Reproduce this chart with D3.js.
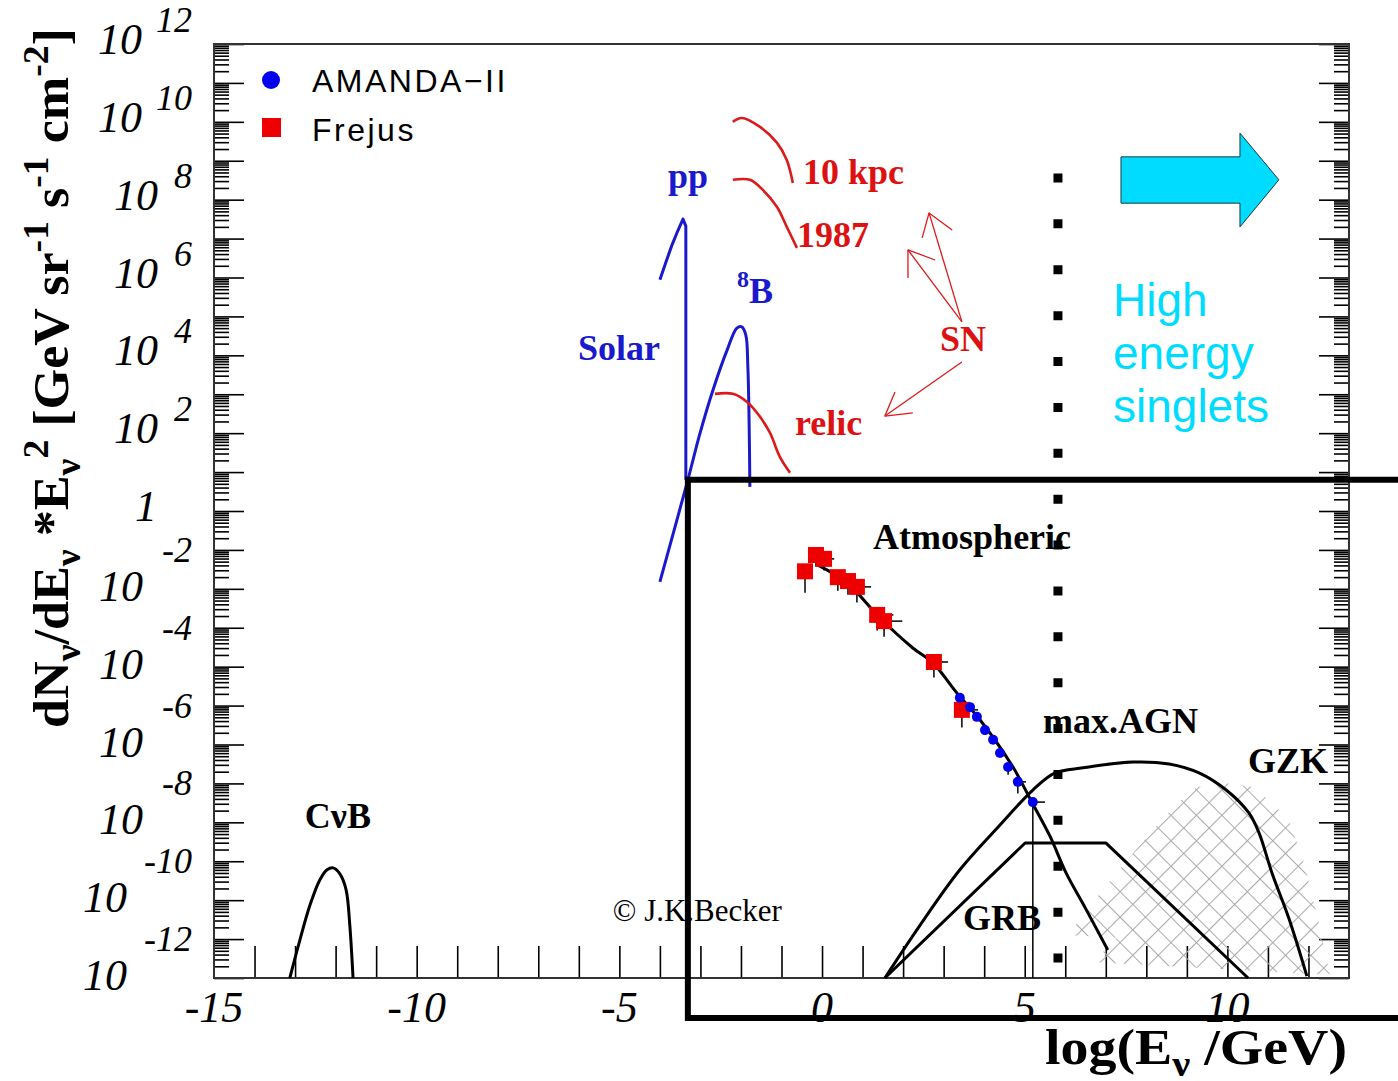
<!DOCTYPE html>
<html>
<head>
<meta charset="utf-8">
<script src="https://cdn.jsdelivr.net/npm/d3@7"></script>
<style>
  html, body { margin: 0; padding: 0; background: #fff; }
  svg { display: block; }
</style>
</head>
<body>
<div id="chart"></div>
<script>
'use strict'

// every curve is [log10(E/GeV), log10(flux)]
const cnbCurve = [[-13.13, -12.0], [-12.88, -11.02], [-12.63, -10.12], [-12.39, -9.48], [-12.21, -9.22],
  [-12.06, -9.17], [-11.89, -9.33], [-11.74, -9.74], [-11.65, -10.64], [-11.57, -12.0]]
const ppCurve = [[-4.0, 5.94], [-3.85, 6.40], [-3.70, 6.84], [-3.55, 7.22], [-3.43, 7.50], [-3.36, 7.32], [-3.36, 0.80]]
const boronCurve = [[-4.0, -1.82], [-3.31, 0.80], [-3.01, 2.0], [-2.69, 3.11], [-2.34, 4.14], [-2.10, 4.70],
  [-1.98, 4.73], [-1.88, 4.52], [-1.83, 3.70], [-1.80, 2.34], [-1.78, 0.62]]
const sn10kpcCurve = [[-2.20, 10.0], [-1.98, 10.10], [-1.53, 9.87], [-1.11, 9.46], [-0.87, 9.02], [-0.72, 8.43]]
const sn1987Curve = [[-2.20, 8.51], [-1.78, 8.51], [-1.46, 8.25], [-1.11, 7.81], [-0.87, 7.30], [-0.62, 6.76]]
const relicCurve = [[-2.64, 3.01], [-2.20, 3.01], [-1.85, 2.80], [-1.53, 2.42], [-1.28, 2.0], [-1.04, 1.39], [-0.79, 0.98]]
const atmCurve = [[-0.10, -1.39], [0.62, -1.85], [1.43, -2.75], [2.24, -3.52], [2.74, -3.91], [3.33, -4.68],
  [3.90, -5.37], [4.71, -6.58], [5.16, -7.45], [5.62, -8.35], [6.02, -9.30], [6.51, -10.23], [7.05, -11.28]]
const agnCurve = [[1.55, -12.0], [2.42, -10.64], [3.40, -9.22], [4.39, -8.07], [5.20, -7.17], [5.75, -6.73],
  [6.44, -6.60], [7.67, -6.45], [8.56, -6.50], [9.30, -6.73], [9.97, -7.17], [10.53, -7.76], [10.78, -8.27],
  [11.10, -9.30], [11.52, -10.48], [11.96, -11.95]]
const grbCurve = [[1.55, -12.0], [5.01, -8.53], [7.0, -8.53], [10.51, -12.0]]
const gzkUpper = [[6.07, -10.90], [6.86, -9.82], [7.84, -8.58], [8.71, -7.56], [9.25, -7.09], [9.94, -6.99],
  [10.63, -7.09], [11.17, -7.56], [11.54, -8.02], [11.87, -8.97], [12.28, -10.69], [12.53, -11.92]]
const gzkLower = [[6.61, -11.59], [7.10, -11.20], [8.02, -10.0], [9.0, -8.45], [9.99, -7.76], [10.63, -8.12],
  [11.30, -9.15], [11.79, -10.18], [12.11, -11.20]]

const frejusE = [-0.42, -0.15, 0.05, 0.39, 0.64, 0.86, 1.36, 1.53, 2.76, 3.45]
const frejusF = [-1.55, -1.13, -1.23, -1.70, -1.80, -1.95, -2.67, -2.83, -3.88, -5.11]
const frejusErrE = [0.0, 0.25, 0.25, 0.3, 0.35, 0.35, 0.4, 0.45, 0.35, 0.4]
const frejusErrF = [0.55, 0.3, 0.3, 0.35, 0.35, 0.4, 0.4, 0.4, 0.4, 0.45]
const amandaE = [3.40, 3.65, 3.82, 4.02, 4.22, 4.39, 4.59, 4.83, 5.20]
const amandaF = [-4.80, -5.04, -5.29, -5.63, -5.88, -6.22, -6.58, -6.96, -7.48]
const amandaErrE = [0.1, 0.1, 0.1, 0.1, 0.1, 0.1, 0.15, 0.2, 0.3]
const amandaErrF = [0.1, 0.1, 0.1, 0.1, 0.1, 0.1, 0.2, 0.3, 4.52]

// SN arrows: shaft and open head, drawn in data units
const snShafts = [[[3.45, 4.86], [2.64, 7.66]], [[3.45, 4.86], [2.12, 6.71]], [[3.45, 3.83], [1.55, 2.44]]]
const snHeads = [[[2.47, 7.02], [2.64, 7.66], [3.21, 7.22]], [[2.12, 5.99], [2.12, 6.71], [2.79, 6.45]],
  [[1.80, 3.06], [1.55, 2.44], [2.24, 2.52]]]

const yExponents = [12, 10, 8, 6, 4, 2, 0, -2, -4, -6, -8, -10, -12]
const xTickLabels = [-15, -10, -5, 0, 5, 10]

const curveLabels = [
  { text: 'CνB', e: -12.76, f: -8.15, color: '#000' },
  { text: 'pp', e: -3.80, f: 8.30, color: '#1a1acc' },
  { text: 'Solar', e: -6.02, f: 3.88, color: '#1a1acc' },
  { text: '10 kpc', e: -0.47, f: 8.40, color: '#dd1111' },
  { text: '1987', e: -0.62, f: 6.78, color: '#dd1111' },
  { text: 'SN', e: 2.91, f: 4.11, color: '#dd1111' },
  { text: 'relic', e: -0.67, f: 1.95, color: '#dd1111' },
  { text: 'Atmospheric', e: 1.26, f: -0.98, color: '#000' },
  { text: 'max.AGN', e: 5.45, f: -5.70, color: '#000' },
  { text: 'GZK', e: 10.51, f: -6.73, color: '#000' },
  { text: 'GRB', e: 3.48, f: -10.77, color: '#000' }
]

const width = 1398
const height = 1081
const blue = '#1a1acc'
const red = '#dd1a1a'
const cyan = '#00dcff'

const x = d3.scaleLinear().domain([-15, 13]).range([214, 1349])
const y = d3.scaleLinear().domain([-12, 12]).range([978, 44])

const svg = d3.select('#chart').append('svg')
  .attr('width', width)
  .attr('height', height)
  .style('font-family', "'Liberation Serif', 'Times New Roman', serif")

svg.append('rect').attr('width', width).attr('height', height).attr('fill', '#fff')

// hatch for the GZK band
const defs = svg.append('defs')
const pat = defs.append('pattern')
  .attr('id', 'hatch')
  .attr('patternUnits', 'userSpaceOnUse')
  .attr('width', 18).attr('height', 18)
  .attr('patternTransform', 'rotate(45)')
pat.append('path').attr('d', 'M0,0.5H18M0.5,0V18')
  .attr('stroke', '#aaa').attr('stroke-width', 1.1).attr('fill', 'none')

// axes: ticks point inwards, log minors inside each decade
const majorY = d3.range(-12, 13)
const minorY = []
for (let n = -12; n < 12; n++) {
  for (let k = 2; k <= 9; k++) minorY.push(n + Math.log10(k))
}

function axisGroup (axis, tx, ty) {
  const g = svg.append('g').attr('transform', `translate(${tx},${ty})`).call(axis)
  g.select('.domain').remove()
  g.selectAll('line').attr('stroke', '#000').attr('stroke-width', 1.6)
  return g
}
axisGroup(d3.axisLeft(y).tickValues(majorY).tickSize(-30).tickFormat(''), 214, 0)
axisGroup(d3.axisLeft(y).tickValues(minorY).tickSize(-15).tickFormat(''), 214, 0)
axisGroup(d3.axisRight(y).tickValues(majorY).tickSize(-30).tickFormat(''), 1349, 0)
axisGroup(d3.axisRight(y).tickValues(minorY).tickSize(-15).tickFormat(''), 1349, 0)
axisGroup(d3.axisBottom(x).tickValues(d3.range(-14, 13)).tickSize(-32).tickFormat(''), 0, 978)

svg.append('rect')
  .attr('x', x(-15)).attr('y', y(12))
  .attr('width', x(13) - x(-15)).attr('height', y(-12) - y(12))
  .attr('fill', 'none').attr('stroke', '#333').attr('stroke-width', 2)

// y tick labels, ROOT style 10^n
const yl = svg.append('g').attr('font-style', 'italic').attr('fill', '#000')
yExponents.forEach(e => {
  const ty = y(e)
  if (e === 0) {
    yl.append('text').attr('x', 157).attr('y', ty + 10).attr('text-anchor', 'end')
      .attr('font-size', 44).text('1')
    return
  }
  const s = String(e)
  let baseEnd
  if (e > 0) baseEnd = s.length > 1 ? 142 : 158
  else baseEnd = s.length > 2 ? 127 : 143
  yl.append('text').attr('x', baseEnd).attr('y', ty + (e > 0 ? 10 : 12)).attr('text-anchor', 'end')
    .attr('font-size', 44).text('10')
  yl.append('text').attr('x', 192).attr('y', ty + (e > 0 ? -12 : -27)).attr('text-anchor', 'end')
    .attr('font-size', 36).text(s)
})

// x tick labels
svg.append('g').selectAll('text').data(xTickLabels).join('text')
  .attr('x', d => x(d)).attr('y', 1022)
  .attr('text-anchor', 'middle').attr('font-style', 'italic').attr('font-size', 44)
  .text(d => String(d))

// axis titles
function richText (sel, parts, subSize) {
  let cur = 0
  parts.forEach(([t, kind]) => {
    const target = kind === 'sub' ? 12 : kind === 'sup' ? -20 : 0
    const ts = sel.append('tspan').attr('dy', target - cur).text(t)
    if (kind !== 'n') ts.attr('font-size', subSize)
    cur = target
  })
}
const yTitle = svg.append('text')
  .attr('transform', 'translate(68,728) rotate(-90)')
  .attr('font-weight', 'bold').attr('font-size', 50)
  .attr('textLength', 700).attr('lengthAdjust', 'spacingAndGlyphs')
richText(yTitle, [['dN', 'n'], ['ν', 'sub'], ['/dE', 'n'], ['ν', 'sub'], [' *E', 'n'], ['ν', 'sub'], ['2', 'sup'],
  [' [GeV sr', 'n'], ['-1', 'sup'], [' s', 'n'], ['-1', 'sup'], [' cm', 'n'], ['-2', 'sup'], [']', 'n']], 36)

const xTitle = svg.append('text')
  .attr('x', 1045).attr('y', 1064)
  .attr('font-weight', 'bold').attr('font-size', 50)
  .attr('textLength', 302).attr('lengthAdjust', 'spacingAndGlyphs')
richText(xTitle, [['log(E', 'n'], ['ν', 'sub'], [' /GeV)', 'n']], 36)

// GZK band
const area = d3.line().x(d => x(d[0])).y(d => y(d[1]))
svg.append('path')
  .attr('d', area(gzkUpper.concat(gzkLower)) + 'Z')
  .attr('fill', 'url(#hatch)').attr('stroke', 'none')

// curves
const smooth = d3.line().x(d => x(d[0])).y(d => y(d[1])).curve(d3.curveCatmullRom.alpha(0.5))
const straight = d3.line().x(d => x(d[0])).y(d => y(d[1]))
function curve (data, gen, color, w) {
  svg.append('path').attr('d', gen(data)).attr('fill', 'none')
    .attr('stroke', color).attr('stroke-width', w).attr('stroke-linejoin', 'round')
}
curve(cnbCurve, smooth, '#000', 3)
curve(ppCurve, straight, blue, 3)
curve(boronCurve, smooth, blue, 3)
curve(sn10kpcCurve, smooth, red, 2.6)
curve(sn1987Curve, smooth, red, 2.6)
curve(relicCurve, smooth, red, 2.6)
curve(atmCurve, smooth, '#000', 3)
curve(agnCurve, smooth, '#000', 3)
curve(grbCurve, straight, '#000', 3)

snShafts.forEach(s => curve(s, straight, red, 1.3))
snHeads.forEach(s => curve(s, straight, red, 1.3))

// data points with error bars
const errs = svg.append('g').attr('stroke', '#000').attr('stroke-width', 1.5)
frejusE.forEach((e, i) => {
  errs.append('line').attr('x1', x(e)).attr('x2', x(e + frejusErrE[i]))
    .attr('y1', y(frejusF[i])).attr('y2', y(frejusF[i]))
  errs.append('line').attr('x1', x(e)).attr('x2', x(e))
    .attr('y1', y(frejusF[i])).attr('y2', y(frejusF[i] - frejusErrF[i]))
})
amandaE.forEach((e, i) => {
  errs.append('line').attr('x1', x(e)).attr('x2', x(e + amandaErrE[i]))
    .attr('y1', y(amandaF[i])).attr('y2', y(amandaF[i]))
  errs.append('line').attr('x1', x(e)).attr('x2', x(e))
    .attr('y1', y(amandaF[i])).attr('y2', y(amandaF[i] - amandaErrF[i]))
})
svg.append('g').selectAll('rect').data(frejusE).join('rect')
  .attr('x', d => x(d) - 8).attr('y', (d, i) => y(frejusF[i]) - 8)
  .attr('width', 16).attr('height', 16).attr('fill', '#ee0000')
svg.append('g').selectAll('circle').data(amandaE).join('circle')
  .attr('cx', d => x(d)).attr('cy', (d, i) => y(amandaF[i]))
  .attr('r', 5).attr('fill', '#0000ee')

// labels
svg.append('g').selectAll('text').data(curveLabels).join('text')
  .attr('x', d => x(d.e)).attr('y', d => y(d.f))
  .attr('font-weight', 'bold').attr('font-size', 36)
  .attr('fill', d => d.color)
  .text(d => d.text)
const boron = svg.append('text').attr('x', x(-2.10)).attr('y', y(5.35))
  .attr('font-weight', 'bold').attr('font-size', 36).attr('fill', blue)
boron.append('tspan').attr('font-size', 24).attr('dy', -16).text('8')
boron.append('tspan').attr('dy', 16).text('B')
svg.append('text').attr('x', x(-5.16)).attr('y', y(-10.54))
  .attr('font-size', 31).attr('fill', '#000').text('© J.K.Becker')

// legend
const leg = svg.append('g').style('font-family', "'Liberation Sans', Arial, sans-serif")
  .attr('font-size', 32).attr('letter-spacing', 2.5)
leg.append('circle').attr('cx', 271).attr('cy', 80).attr('r', 9).attr('fill', '#0000ee')
leg.append('rect').attr('x', 262).attr('y', 118).attr('width', 19).attr('height', 19).attr('fill', '#ee0000')
leg.append('text').attr('x', 312).attr('y', 92).text('AMANDA−II')
leg.append('text').attr('x', 312).attr('y', 141).text('Frejus')

// dotted threshold line
const dotE = 5.82
const dotTop = 8.673
const dotBottom = -11.602
const nDots = 18
const dotLen = y(dotBottom) - y(dotTop)
const period = (dotLen - 9) / (nDots - 1)
svg.append('line')
  .attr('x1', x(dotE)).attr('x2', x(dotE)).attr('y1', y(dotTop)).attr('y2', y(dotBottom))
  .attr('stroke', '#000').attr('stroke-width', 9)
  .attr('stroke-dasharray', `9 ${period - 9}`)

// overlay box
const boxE = -3.31
const boxTop = 0.80
const boxBottom = -13.03
svg.append('path')
  .attr('d', `M${width + 10},${y(boxTop)}H${x(boxE)}V${y(boxBottom)}H${width + 10}`)
  .attr('fill', 'none').attr('stroke', '#000').attr('stroke-width', 6)

// high energy arrow
const arrowPts = [[7.375, 9.10], [10.31, 9.10], [10.31, 9.71], [11.27, 8.51], [10.31, 7.30], [10.31, 7.91], [7.375, 7.91]]
svg.append('path')
  .attr('d', straight(arrowPts) + 'Z')
  .attr('fill', cyan).attr('stroke', '#1a3a40').attr('stroke-width', 1)

const he = svg.append('g').style('font-family', "'Liberation Sans', Arial, sans-serif")
  .attr('fill', cyan).attr('font-size', 46)
;['High', 'energy', 'singlets'].forEach((t, i) => {
  he.append('text').attr('x', 1113).attr('y', 316 + i * 53).text(t)
})
</script>
</body>
</html>
